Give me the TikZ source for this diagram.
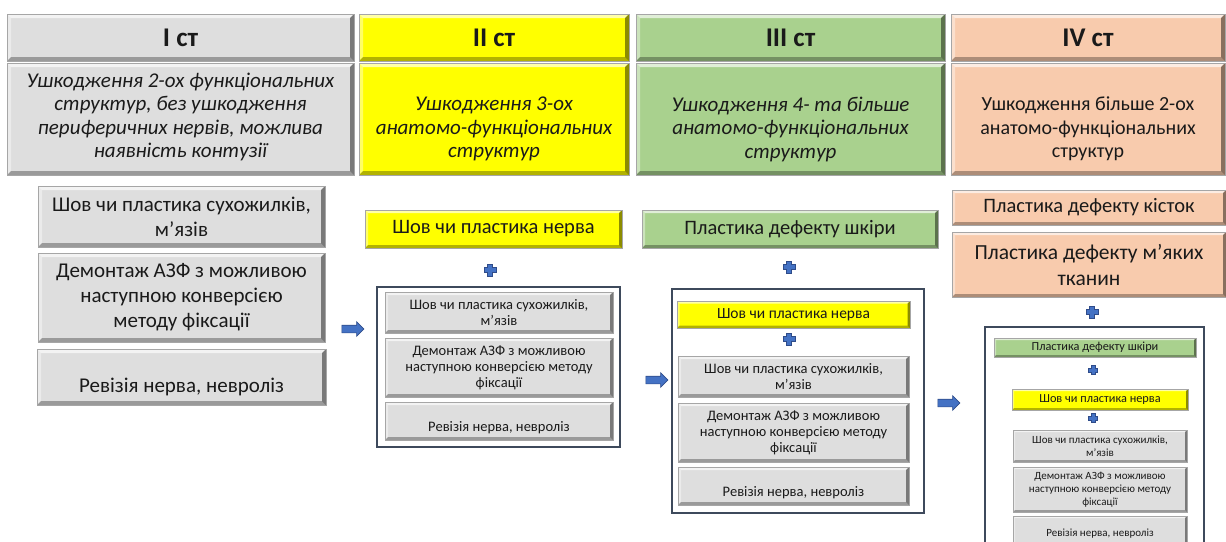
\documentclass[tikz,border=0pt]{standalone}
\usepackage{fontspec}
\setmainfont{Carlito}
\usetikzlibrary{shapes.arrows}
\definecolor{gfill}{HTML}{DEDEDE}
\definecolor{yfill}{HTML}{FFFF00}
\definecolor{grfill}{HTML}{A9D18E}
\definecolor{pfill}{HTML}{F8CBAD}
\definecolor{ablue}{HTML}{4472C4}
\definecolor{adark}{HTML}{2F4C8A}
\definecolor{framec}{HTML}{3E4A5C}
\definecolor{txt}{HTML}{1A1A1A}
\tikzset{
  bev/.style={path picture={
    \fill[white,opacity=.65] (path picture bounding box.north west) -- (path picture bounding box.north east)
      -- ([shift={(-#1pt,-#1pt)}]path picture bounding box.north east) -- ([shift={(#1pt,-#1pt)}]path picture bounding box.north west) -- cycle;
    \fill[white,opacity=.4] (path picture bounding box.north west) -- ([shift={(#1pt,-#1pt)}]path picture bounding box.north west)
      -- ([shift={(#1pt,#1pt)}]path picture bounding box.south west) -- (path picture bounding box.south west) -- cycle;
    \fill[black,opacity=.3] (path picture bounding box.south west) -- (path picture bounding box.south east)
      -- ([shift={(-#1pt,#1pt)}]path picture bounding box.south east) -- ([shift={(#1pt,#1pt)}]path picture bounding box.south west) -- cycle;
    \fill[black,opacity=.45] (path picture bounding box.north east) -- (path picture bounding box.south east)
      -- ([shift={(-#1pt,#1pt)}]path picture bounding box.south east) -- ([shift={(-#1pt,-#1pt)}]path picture bounding box.north east) -- cycle;
  }},
  abox/.style={draw=black!35, line width=0.4pt, inner sep=1pt, align=center, text=txt},
  hdr/.style={abox, bev=4, font=\bfseries\fontsize{27}{30}\selectfont},
  dbox/.style={abox, bev=4},
  dtxt/.style={align=center, text=txt, inner sep=0pt, font=\itshape\fontsize{21}{23.5}\selectfont},
  dtxtup/.style={align=center, text=txt, inner sep=0pt, font=\fontsize{20}{23.5}\selectfont},
  big/.style={abox, bev=4, font=\fontsize{21}{25}\selectfont},
  mid/.style={abox, bev=3, font=\fontsize{20.5}{25}\selectfont},
  sml/.style={abox, bev=3, font=\fontsize{14.5}{16}\selectfont},
  yin/.style={abox, bev=2.5, font=\fontsize{15.5}{18}\selectfont},
  tiny/.style={abox, bev=2, font=\fontsize{11}{13}\selectfont},
  tinyb/.style={abox, bev=2, font=\fontsize{12.3}{14}\selectfont},
  outer/.style={draw=framec, line width=1.2pt, fill=white},
  blarrow/.style={single arrow, fill=ablue, draw=adark, line width=0.6pt, minimum height=22pt,
    minimum width=14pt, single arrow head extend=3.5pt, inner sep=3.5pt},
  plus/.pic={\filldraw[fill=ablue, draw=adark, line width=0.7pt]
    (-2.4,-6) -- (2.4,-6) -- (2.4,-2.4) -- (6,-2.4) -- (6,2.4) -- (2.4,2.4) -- (2.4,6)
    -- (-2.4,6) -- (-2.4,2.4) -- (-6,2.4) -- (-6,-2.4) -- (-2.4,-2.4) -- cycle;}
}
\begin{document}
\begin{tikzpicture}[x=1pt,y=-1pt]
\clip (0,0) rectangle (1226,541);
\fill[white] (0,0) rectangle (1226,541);
% headers
\node[hdr, fill=gfill,  minimum width=347pt, minimum height=47pt] (h1) at (180.5,37.5) {I ст};
\node[hdr, fill=yfill,  minimum width=270pt, minimum height=47pt] (h2) at (494,37.5) {II ст};
\node[hdr, fill=grfill, minimum width=309pt, minimum height=47pt] (h3) at (790.5,37.5) {III ст};
\node[hdr, fill=pfill,  minimum width=274pt, minimum height=47pt] (h4) at (1088,37.5) {IV ст};
% descriptions
\node[dbox, fill=gfill,  minimum width=347pt, minimum height=112pt] (d1) at (180.5,119) {};
\node[dtxt] (d1t) at (180.5,117)
  {Ушкодження 2-ох функціональних\\структур, без ушкодження\\периферичних нервів, можлива\\наявність контузії};
\node[dbox, fill=yfill,  minimum width=270pt, minimum height=112pt] (d2) at (494,119) {};
\node[dtxt] (d2t) at (494,129)
  {Ушкодження 3-ох\\анатомо-функціональних\\структур};
\node[dbox, fill=grfill, minimum width=309pt, minimum height=112pt] (d3) at (790.5,119) {};
\node[dtxt] (d3t) at (790.5,129)
  {Ушкодження 4- та більше\\анатомо-функціональних\\структур};
\node[dbox, fill=pfill, minimum width=274pt, minimum height=112pt] (d4) at (1088,119) {};
\node[dtxtup] (d4t) at (1088,129)
  {Ушкодження більше 2-ох\\анатомо-функціональних\\структур};
% column 1
\node[big, fill=gfill, minimum width=287pt, minimum height=61pt] (c1a) at (181.5,216.5)
  {Шов чи пластика сухожилків,\\м’язів};
\node[big, fill=gfill, minimum width=287pt, minimum height=89pt] (c1b) at (181.5,297.5)
  {Демонтаж АЗФ з можливою\\наступною конверсією\\методу фіксації};
\node[big, fill=gfill, minimum width=289pt, minimum height=56pt, text height=36pt, text depth=5pt] (c1c) at (181.5,377)
  {Ревізія нерва, невроліз};
\node[blarrow] (a1) at (351,329) {};
% column 2
\node[mid, fill=yfill, minimum width=257pt, minimum height=38pt] (y2) at (493.5,229) {Шов чи пластика нерва};
\pic (p2) at (490,270) {plus};
\node[outer, minimum width=243pt, minimum height=160pt] (o2) at (498.5,367) {};
\node[sml, fill=gfill, minimum width=228pt, minimum height=41pt] (i2a) at (499,312.5)
  {Шов чи пластика сухожилків,\\м’язів};
\node[sml, fill=gfill, minimum width=228pt, minimum height=59pt] (i2b) at (499,367.5)
  {Демонтаж АЗФ з можливою\\наступною конверсією методу\\фіксації};
\node[sml, fill=gfill, minimum width=228pt, minimum height=38pt, text height=24pt, text depth=3pt] (i2c) at (499,421)
  {Ревізія нерва, невроліз};
\node[blarrow] (a2) at (655,380) {};
% column 3
\node[mid, fill=grfill, minimum width=296pt, minimum height=38pt] (g3) at (790,229) {Пластика дефекту шкіри};
\pic (p3a) at (789,267) {plus};
\node[outer, minimum width=252pt, minimum height=224pt] (o3) at (798,401) {};
\node[yin, fill=yfill, minimum width=233pt, minimum height=27pt] (y3) at (793.5,314.5) {Шов чи пластика нерва};
\pic (p3b) at (789,339) {plus};
\node[sml, fill=gfill, minimum width=231pt, minimum height=41pt] (i3a) at (793.5,376.5)
  {Шов чи пластика сухожилків,\\м’язів};
\node[sml, fill=gfill, minimum width=231pt, minimum height=59pt] (i3b) at (793.5,432.5)
  {Демонтаж АЗФ з можливою\\наступною конверсією методу\\фіксації};
\node[sml, fill=gfill, minimum width=231pt, minimum height=38pt, text height=24pt, text depth=3pt] (i3c) at (793.5,486)
  {Ревізія нерва, невроліз};
\node[blarrow] (a3) at (947,403) {};
% column 4
\node[mid, fill=pfill, minimum width=274pt, minimum height=35pt] (q4a) at (1089,207.5) {Пластика дефекту кісток};
\node[mid, fill=pfill, minimum width=274pt, minimum height=65pt, font=\fontsize{21.5}{26}\selectfont] (q4b) at (1089,264.5) {Пластика дефекту м’яких\\тканин};
\pic (p4a) at (1092,312) {plus};
\node[outer, minimum width=219pt, minimum height=230pt] (o4) at (1094.5,442) {};
\node[tinyb, fill=grfill, minimum width=202pt, minimum height=19pt] (g4) at (1095,347.5) {Пластика дефекту шкіри};
\pic[scale=0.8] (p4b) at (1093,370) {plus};
\node[tinyb, fill=yfill, minimum width=176pt, minimum height=21pt] (y4) at (1100,399.5) {Шов чи пластика нерва};
\pic[scale=0.8] (p4c) at (1093,418) {plus};
\node[tiny, fill=gfill, minimum width=174pt, minimum height=32pt] (i4a) at (1100,446)
  {Шов чи пластика сухожилків,\\м’язів};
\node[tiny, fill=gfill, minimum width=174pt, minimum height=45pt] (i4b) at (1100,489.5)
  {Демонтаж АЗФ з можливою\\наступною конверсією методу\\фіксації};
\node[tiny, fill=gfill, minimum width=174pt, minimum height=34pt, text height=10pt, text depth=3pt] (i4c) at (1100,533)
  {Ревізія нерва, невроліз};
\end{tikzpicture}
\end{document}
